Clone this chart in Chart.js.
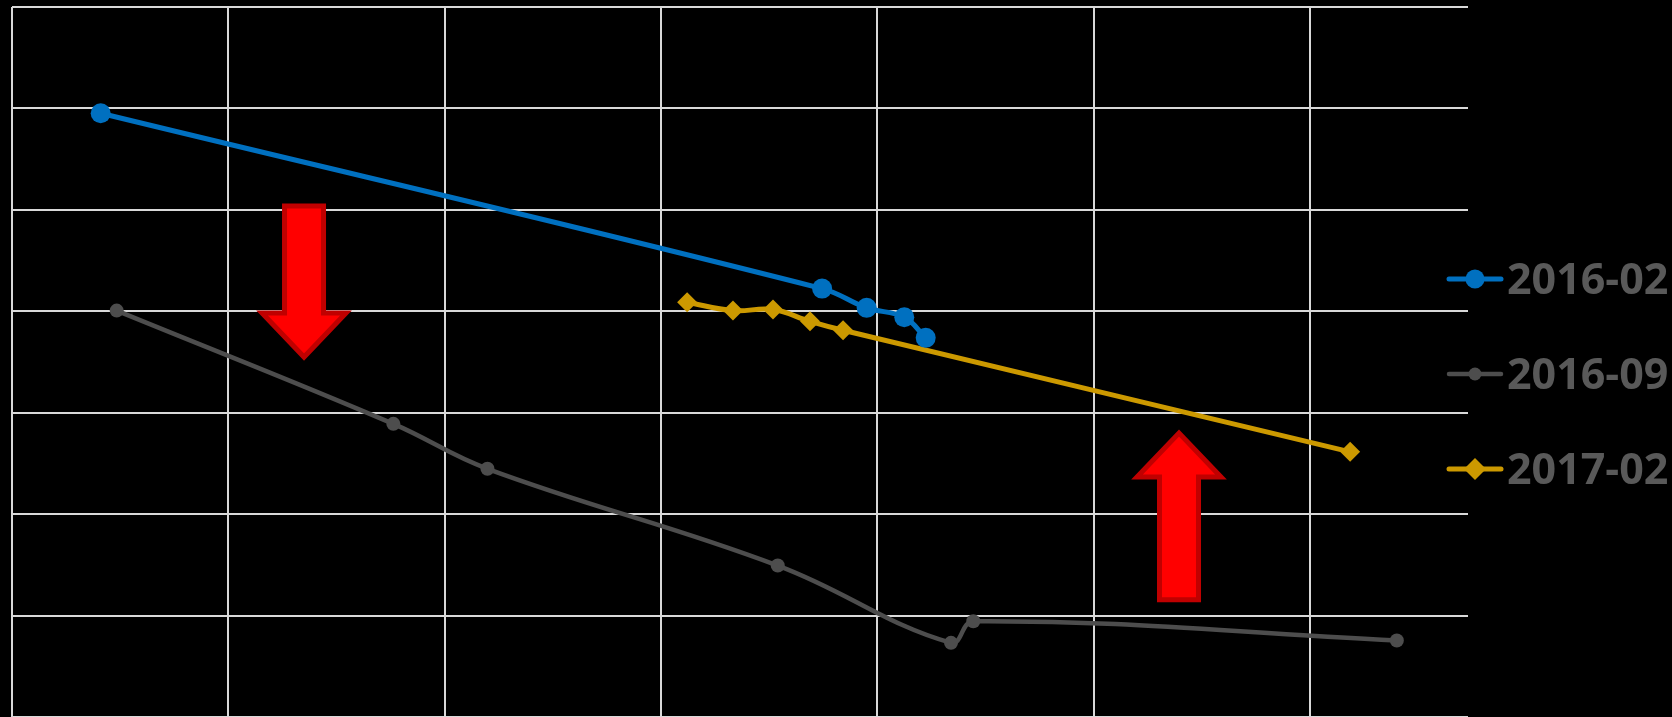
<!DOCTYPE html>
<html>
<head>
<meta charset="utf-8">
<script src="https://cdn.jsdelivr.net/npm/chart.js@4/dist/chart.umd.min.js"></script>
<style>
  html, body { margin: 0; padding: 0; background: #000; }
  #wrap { width: 1672px; height: 717px; position: relative; }
</style>
</head>
<body>
<div id="wrap"><canvas id="chart"></canvas></div>
<script>
// series (grid units: one gridline = 1)
const seriesLabels = ['2016-02', '2016-09', '2017-02'];

const feb16X = [0.41, 3.745, 3.951, 4.125, 4.224];
const feb16Y = [5.952, 4.224, 4.034, 3.941, 3.738];

const sep16X = [0.484, 1.763, 2.198, 3.540, 4.341, 4.444, 6.402];
const sep16Y = [4.007, 2.890, 2.447, 1.493, 0.731, 0.944, 0.754];

const feb17X = [3.121, 3.333, 3.518, 3.689, 3.842, 6.186];
const feb17Y = [4.089, 4.007, 4.017, 3.901, 3.813, 2.614];

// annotation arrows, in axis units
const arrows = [
    { x: 1.35, from: 5.062, to: 3.514, dir: 'down' },
    { x: 5.395, from: 1.132, to: 2.834, dir: 'up' }
];

const toPoints = (xs, ys) => xs.map((x, i) => ({ x: x, y: ys[i] }));

// only whole-unit ticks get a gridline (no line at the odd axis max)
const gridColor = c => (c.tick && Math.abs(c.tick.value - Math.round(c.tick.value)) > 1e-6) ? 'rgba(0,0,0,0)' : '#D9D9D9';

const arrowPlugin = {
    id: 'arrows',
    afterDatasetsDraw(chart) {
        const { ctx, scales: { x, y } } = chart;
        const headH = 44;
        const shaftW = 19.5;
        const headW = 42;
        ctx.save();
        arrows.forEach(a => {
            const cx = x.getPixelForValue(a.x);
            const start = y.getPixelForValue(a.from);
            const tip = y.getPixelForValue(a.to);
            const sgn = a.dir === 'down' ? 1 : -1;
            const s = start + sgn * 2.5;
            const t = tip - sgn * 3.5;
            const base = t - sgn * headH;
            ctx.beginPath();
            ctx.moveTo(cx - shaftW, s);
            ctx.lineTo(cx + shaftW, s);
            ctx.lineTo(cx + shaftW, base);
            ctx.lineTo(cx + headW, base);
            ctx.lineTo(cx, t);
            ctx.lineTo(cx - headW, base);
            ctx.lineTo(cx - shaftW, base);
            ctx.closePath();
            ctx.fillStyle = '#FF0000';
            ctx.fill();
            ctx.lineWidth = 5;
            ctx.lineJoin = 'miter';
            ctx.strokeStyle = '#C00000';
            ctx.stroke();
        });
        ctx.restore();
    }
};

const legendPlugin = {
    id: 'sideLegend',
    afterDraw(chart) {
        const ctx = chart.ctx;
        const rows = [279, 374, 469];
        ctx.save();
        chart.data.datasets.forEach((ds, i) => {
            const yy = rows[i];
            ctx.strokeStyle = ds.borderColor;
            ctx.lineWidth = ds.borderWidth;
            ctx.lineCap = 'round';
            ctx.beginPath();
            ctx.moveTo(1449, yy);
            ctx.lineTo(1501, yy);
            ctx.stroke();
            ctx.fillStyle = ds.borderColor;
            Chart.helpers.drawPoint(ctx, {
                pointStyle: ds.pointStyle,
                radius: ds.legendRadius,
                borderWidth: 0,
                rotation: 0
            }, 1475, yy);
            ctx.fillStyle = '#595959';
            ctx.font = 'bold 43px "Open Sans"';
            ctx.textBaseline = 'alphabetic';
            ctx.textAlign = 'left';
            ctx.fillText(ds.label, 1507, yy + 15);
        });
        ctx.restore();
    }
};

const ctx = document.getElementById('chart').getContext('2d');
new Chart(ctx, {
    type: 'line',
    data: {
        datasets: [{
            label: seriesLabels[0],
            data: toPoints(feb16X, feb16Y),
            borderColor: '#0070C0',
            backgroundColor: '#0070C0',
            borderWidth: 5,
            pointStyle: 'circle',
            pointRadius: 10,
            pointBorderWidth: 0,
            legendRadius: 9.5,
            tension: 0.4
        }, {
            label: seriesLabels[1],
            data: toPoints(sep16X, sep16Y),
            borderColor: '#4D4D4D',
            backgroundColor: '#4D4D4D',
            borderWidth: 4.5,
            pointStyle: 'circle',
            pointRadius: 7,
            pointBorderWidth: 0,
            legendRadius: 6.5,
            tension: 0.4
        }, {
            label: seriesLabels[2],
            data: toPoints(feb17X, feb17Y),
            borderColor: '#CC9900',
            backgroundColor: '#CC9900',
            borderWidth: 5,
            pointStyle: 'rectRot',
            pointRadius: 10,
            pointBorderWidth: 0,
            legendRadius: 11,
            tension: 0.4
        }]
    },
    options: {
        responsive: true,
        maintainAspectRatio: false,
        animation: false,
        layout: {
            autoPadding: false,
            padding: { left: 12, top: 7, right: 204, bottom: 0 }
        },
        scales: {
            x: {
                type: 'linear',
                min: 0,
                max: 6.731,
                border: { display: false },
                grid: { color: gridColor, lineWidth: 2, drawTicks: false },
                ticks: { display: false, stepSize: 1 }
            },
            y: {
                min: 0,
                max: 7,
                border: { display: false },
                grid: { color: gridColor, lineWidth: 2, drawTicks: false },
                ticks: { display: false, stepSize: 1 }
            }
        },
        plugins: {
            legend: { display: false },
            tooltip: { enabled: false }
        }
    },
    plugins: [arrowPlugin, legendPlugin]
});
</script>
</body>
</html>
